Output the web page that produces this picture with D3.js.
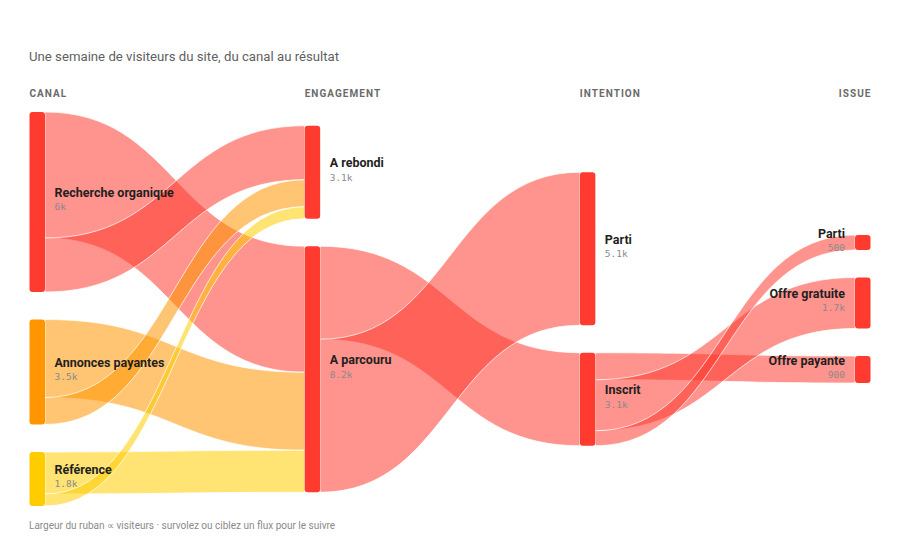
<!DOCTYPE html>
<html>
<head>
<meta charset="utf-8">
<script src="https://cdn.jsdelivr.net/npm/d3@7"></script>
<style>
  html, body { margin: 0; padding: 0; background: #fff; }
  svg { display: block; font-family: Roboto, "Noto Sans", sans-serif; }
</style>
</head>
<body>
<svg id="chart" width="900" height="543"></svg>
<script>
// ---------- data ----------
const title = "Une semaine de visiteurs du site, du canal au résultat";
const footer = "Largeur du ruban \u221D visiteurs \u00B7 survolez ou ciblez un flux pour le suivre";
const columnLabels = ["CANAL", "ENGAGEMENT", "INTENTION", "ISSUE"];

const nodeNames   = ["Recherche organique", "Annonces payantes", "Référence",
                     "A rebondi", "A parcouru",
                     "Parti", "Inscrit",
                     "Parti", "Offre gratuite", "Offre payante"];
const nodeColumns = [0, 0, 0, 1, 1, 2, 2, 3, 3, 3];
const nodeColors  = ["#ff3b30", "#ff9500", "#ffcc00",
                     "#ff3b30", "#ff3b30",
                     "#ff3b30", "#ff3b30",
                     "#ff3b30", "#ff3b30", "#ff3b30"];

const linkSources = [0, 0, 1, 1, 2, 2, 4, 4, 6, 6, 6];
const linkTargets = [4, 3, 4, 3, 4, 3, 6, 5, 9, 8, 7];
const linkValues  = [4200, 1800, 2600, 900, 1400, 400, 3100, 5100, 900, 1700, 500];

// ---------- layout ----------
const W = 900, H = 543;
const svg = d3.select("#chart");
const nodeW = 15.5, yTop = 112, yBottom = 506, pad = 27.5;
const x = d3.scaleLinear().domain([0, 3]).range([29.5, 855]);

const nodes = nodeNames.map((name, i) => ({
  i, name, col: nodeColumns[i], color: nodeColors[i], inL: [], outL: []
}));
const links = linkValues.map((value, i) => ({
  source: nodes[linkSources[i]], target: nodes[linkTargets[i]], value
}));
links.forEach(l => { l.source.outL.push(l); l.target.inL.push(l); });
nodes.forEach(n => {
  n.value = Math.max(d3.sum(n.inL, l => l.value), d3.sum(n.outL, l => l.value));
});

const cols = d3.groups(nodes, n => n.col).sort((a, b) => a[0] - b[0]).map(d => d[1]);
const k = d3.min(cols, c => (yBottom - yTop - (c.length - 1) * pad) / d3.sum(c, n => n.value));
const v = d3.scaleLinear().domain([0, 1]).range([0, k]); // px per visitor
const mid = (yTop + yBottom) / 2;

cols.forEach(c => {
  const h = d3.sum(c, n => v(n.value)) + (c.length - 1) * pad;
  let yy = mid - h / 2;
  c.forEach(n => {
    n.x0 = x(n.col); n.x1 = n.x0 + nodeW;
    n.y0 = yy; n.y1 = yy + v(n.value);
    yy = n.y1 + pad;
  });
});

// link breadths: source side ordered by descending target position, target side ascending source
nodes.forEach(n => {
  let yy = n.y0;
  n.outL.slice().sort((a, b) => b.target.y0 - a.target.y0).forEach(l => {
    l.sy0 = yy; yy += v(l.value); l.sy1 = yy;
  });
  yy = n.y0;
  n.inL.slice().sort((a, b) => a.source.y0 - b.source.y0).forEach(l => {
    l.ty0 = yy; yy += v(l.value); l.ty1 = yy;
  });
});

function ribbon(l) {
  const sx = l.source.x1, tx = l.target.x0, mx = (sx + tx) / 2;
  const p = d3.path();
  p.moveTo(sx, l.sy0);
  p.bezierCurveTo(mx, l.sy0, mx, l.ty0, tx, l.ty0);
  p.lineTo(tx, l.ty1);
  p.bezierCurveTo(mx, l.ty1, mx, l.sy1, sx, l.sy1);
  p.closePath();
  return p.toString();
}

// ---------- draw ----------
svg.append("text")
  .attr("x", 29).attr("y", 61)
  .attr("font-size", 13.2).attr("fill", "#5f5f5f")
  .text(title);

svg.append("g").selectAll("text").data(columnLabels).join("text")
  .attr("x", (d, i) => i === 3 ? x(3) + nodeW + 1 : x(i))
  .attr("y", 97)
  .attr("text-anchor", (d, i) => i === 3 ? "end" : "start")
  .attr("font-size", 10).attr("font-weight", 700)
  .attr("letter-spacing", 1.05)
  .attr("fill", "#6b6b6b")
  .text(d => d);

svg.append("g").selectAll("path").data(links).join("path")
  .attr("d", ribbon)
  .attr("fill", d => d.source.color)
  .attr("fill-opacity", 0.55)
  .attr("stroke", "#fff")
  .attr("stroke-width", 0.8)
  .attr("stroke-opacity", 0.9);

svg.append("g").selectAll("rect").data(nodes).join("rect")
  .attr("x", d => d.x0).attr("y", d => d.y0)
  .attr("width", d => d.x1 - d.x0).attr("height", d => d.y1 - d.y0)
  .attr("rx", 3).attr("ry", 3)
  .attr("fill", d => d.color);

const fmt = d3.format(".2~s");
const lab = svg.append("g").selectAll("g").data(nodes).join("g")
  .attr("transform", d => {
    const c = (d.y0 + d.y1) / 2;
    return d.col === 3 ? `translate(${d.x0 - 10},${c})` : `translate(${d.x1 + 9.5},${c})`;
  })
  .attr("text-anchor", d => d.col === 3 ? "end" : "start");

lab.append("text")
  .attr("y", -4.8)
  .attr("font-size", 12.5).attr("font-weight", 700)
  .attr("fill", "#1f1f1f")
  .text(d => d.name);

lab.append("text")
  .attr("y", 8.3)
  .attr("font-size", 9.5)
  .attr("font-family", "'DejaVu Sans Mono', 'Liberation Mono', monospace")
  .attr("fill", "#8a8a8a")
  .text(d => fmt(d.value));

svg.append("text")
  .attr("x", 29).attr("y", 529)
  .attr("font-size", 10).attr("fill", "#8a8a8a")
  .text(footer);
</script>
</body>
</html>
